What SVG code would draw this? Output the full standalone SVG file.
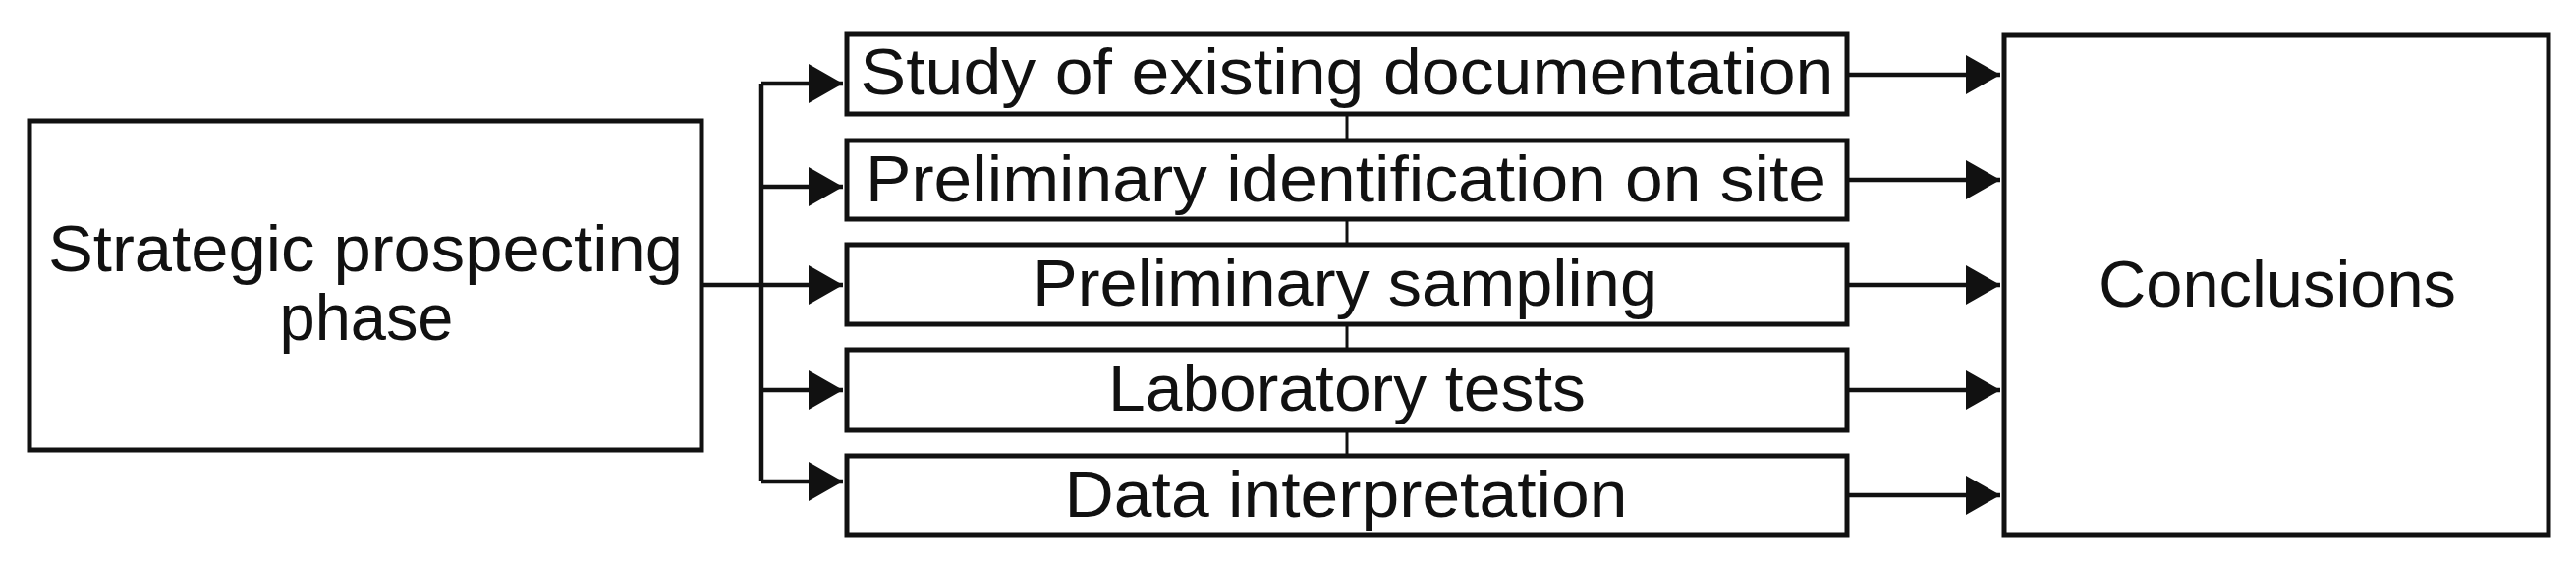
<svg xmlns="http://www.w3.org/2000/svg" width="2622" height="576" viewBox="0 0 2622 576">
<defs>
<marker id="ah" markerUnits="userSpaceOnUse" markerWidth="36" markerHeight="40" refX="35" refY="20" orient="auto">
<path d="M0,0 L35,20 L0,40 z" fill="#111"/>
</marker>
<style>
.box{fill:#fff;stroke:#111;stroke-width:5}
.ln{fill:none;stroke:#111;stroke-width:4.5}
.tick{fill:none;stroke:#111;stroke-width:3}
.t{font-family:"Liberation Sans",Arial,sans-serif;font-size:67px;fill:#111;text-anchor:middle}
</style>
</defs>
<rect width="2622" height="576" fill="#fff"/>
<g id="connectors">
<polyline class="ln" points="716,290 858,290" marker-end="url(#ah)"/>
<polyline class="ln" points="775,85 775,490"/>
<polyline class="ln" points="775,85 858,85" marker-end="url(#ah)"/>
<polyline class="ln" points="775,190 858,190" marker-end="url(#ah)"/>
<polyline class="ln" points="775,397 858,397" marker-end="url(#ah)"/>
<polyline class="ln" points="775,490 858,490" marker-end="url(#ah)"/>
<line class="tick" x1="1371" y1="118" x2="1371" y2="141"/>
<line class="tick" x1="1371" y1="225" x2="1371" y2="247"/>
<line class="tick" x1="1371" y1="332" x2="1371" y2="354"/>
<line class="tick" x1="1371" y1="440" x2="1371" y2="462"/>
<polyline class="ln" points="1882,76 2036,76" marker-end="url(#ah)"/>
<polyline class="ln" points="1882,183 2036,183" marker-end="url(#ah)"/>
<polyline class="ln" points="1882,290 2036,290" marker-end="url(#ah)"/>
<polyline class="ln" points="1882,397 2036,397" marker-end="url(#ah)"/>
<polyline class="ln" points="1882,504 2036,504" marker-end="url(#ah)"/>
</g>
<g id="strategic">
<rect class="box" x="30" y="123" width="684" height="335"/>
<text class="t" x="372" y="276" textLength="646" lengthAdjust="spacingAndGlyphs">Strategic prospecting</text>
<text class="t" x="373" y="346" textLength="177" lengthAdjust="spacingAndGlyphs">phase</text>
</g>
<g id="study">
<rect class="box" x="862" y="35" width="1018" height="81"/>
<text class="t" x="1371" y="96" textLength="991" lengthAdjust="spacingAndGlyphs">Study of existing documentation</text>
</g>
<g id="identification">
<rect class="box" x="862" y="143" width="1018" height="80"/>
<text class="t" x="1370" y="205" textLength="978" lengthAdjust="spacingAndGlyphs">Preliminary identification on site</text>
</g>
<g id="sampling">
<rect class="box" x="862" y="249" width="1018" height="81"/>
<text class="t" x="1369" y="311" textLength="636" lengthAdjust="spacingAndGlyphs">Preliminary sampling</text>
</g>
<g id="laboratory">
<rect class="box" x="862" y="356" width="1018" height="82"/>
<text class="t" x="1371" y="418" textLength="486" lengthAdjust="spacingAndGlyphs">Laboratory tests</text>
</g>
<g id="interpretation">
<rect class="box" x="862" y="464" width="1018" height="80"/>
<text class="t" x="1370" y="526" textLength="573" lengthAdjust="spacingAndGlyphs">Data interpretation</text>
</g>
<g id="conclusions">
<rect class="box" x="2040" y="36" width="554" height="508"/>
<text class="t" x="2318" y="312" textLength="364" lengthAdjust="spacingAndGlyphs">Conclusions</text>
</g>
</svg>
